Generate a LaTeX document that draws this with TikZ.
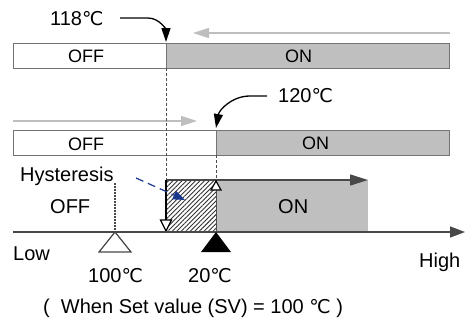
\documentclass[tikz,border=0pt]{standalone}
\usepackage{fontspec}
\setmainfont{Liberation Sans}
\newfontfamily\symfont{DejaVu Sans}
\usetikzlibrary{arrows.meta,patterns.meta}
\newcommand{\degC}{{\symfont\fontsize{19}{19}\selectfont ℃}}
\definecolor{bargray}{RGB}{191,191,191}
\definecolor{bordergray}{RGB}{115,115,115}
\definecolor{lightarr}{RGB}{190,190,190}
\definecolor{darkarr}{RGB}{72,72,72}
\definecolor{hystblue}{RGB}{25,55,140}
\begin{document}
\begin{tikzpicture}[x=1pt,y=-1pt,
  lbl/.style={font=\fontsize{20}{24}\selectfont, inner sep=0pt, anchor=base west},
  barlbl/.style={font=\fontsize{18}{22}\selectfont, inner sep=0pt, anchor=base west},
  offbar/.style={draw=bordergray, line width=1pt, fill=white},
  onbar/.style={draw=bordergray, line width=1pt, fill=bargray},
  lightarrow/.style={draw=lightarr, line width=1.5pt, -{Triangle[length=16pt,width=10pt]}},
  callout/.style={draw=black, line width=1.3pt, -{Triangle[length=14pt,width=9pt]}},
  guide/.style={draw=black!70, line width=0.8pt, dash pattern=on 3pt off 2pt},
  axisline/.style={draw=darkarr, line width=1.5pt, -{Triangle[length=15pt,width=11pt]}},
  marker/.style={draw=darkarr, line width=1.2pt, fill=white},
  bluearrow/.style={draw=hystblue, line width=1.2pt, dash pattern=on 8pt off 5pt, -{Triangle[length=12pt,width=9pt]}}
]
\useasboundingbox (0,0) rectangle (465,322);

% ---- top bar (decreasing) ----
\coordinate (la1s) at (450,33);
\coordinate (la1e) at (193,33);
\draw[lightarrow] (la1s) -- (la1e);
\draw[offbar] (13,43) rectangle (166,68);
\draw[onbar] (166,43) rectangle (449,68);
\node[barlbl] (off1) at (68,62) {OFF};
\node[barlbl] (on1) at (285,62) {ON};
\node[lbl] (t118) at (50,25) {118\degC};
\coordinate (c118s) at (120,18);
\coordinate (c118m) at (148,18);
\coordinate (c118e) at (166,42);
\draw[callout] (c118s) -- (c118m) to[out=0,in=90] (c118e);

% ---- second bar (increasing) ----
\coordinate (la2s) at (13,121);
\coordinate (la2e) at (197,121);
\draw[lightarrow] (la2s) -- (la2e);
\draw[offbar] (13,130) rectangle (216,155);
\draw[onbar] (216,130) rectangle (449,155);
\node[barlbl] (off2) at (68,150) {OFF};
\node[barlbl] (on2) at (302,149) {ON};
\node[lbl] (t120) at (278,102) {120\degC};
\coordinate (c120s) at (267,96);
\coordinate (c120m) at (250,96);
\coordinate (c120e) at (216,128);
\draw[callout] (c120s) -- (c120m) to[out=180,in=80] (c120e);

% ---- guide lines ----
\coordinate (g1t) at (166,68);
\coordinate (g1b) at (166,180);
\draw[guide] (g1t) -- (g1b);
\coordinate (g2t) at (216,155);
\coordinate (g2b) at (216,182);
\draw[guide] (g2t) -- (g2b);

% ---- hysteresis region ----
\fill[pattern={Lines[angle=45,distance=3.2pt,line width=0.9pt]}, pattern color=black!80] (166,180) rectangle (216,232);
\fill[bargray] (216,180) rectangle (368,232);
\draw[black!70, line width=0.8pt] (216,190) -- (216,232);
\coordinate (onas) at (166,180);
\coordinate (onae) at (368,180);
\draw[draw=darkarr, line width=1.5pt, -{Triangle[length=18pt,width=11pt]}] (onas) -- (onae);
% left solid edge with open down triangle
\draw[black, line width=1.2pt] (166,180) -- (166,220);
\draw[marker, draw=black] (160.5,220) -- (171.5,220) -- (166,231) -- cycle;
% open up triangle at 120
\draw[marker, draw=black] (211,190) -- (221,190) -- (216,181) -- cycle;

% ---- axis ----
\coordinate (axs) at (13,232);
\coordinate (axe) at (465,232);
\draw[axisline] (axs) -- (axe);
% SV dotted line and marker
\coordinate (svt) at (115,183);
\coordinate (svb) at (115,232);
\draw[darkarr, line width=1.2pt, dash pattern=on 1.5pt off 1.5pt] (svt) -- (svb);
\draw[marker] (115,232) -- (131,252) -- (99,252) -- cycle;
% black marker
\fill[black] (216,232) -- (231,252) -- (201,252) -- cycle;

% ---- labels ----
\node[lbl] (hyst) at (20,181) {Hysteresis};
\node[lbl] (off3) at (50,213) {OFF};
\node[lbl] (on3) at (278,213) {ON};
\node[lbl] (low) at (13,260) {Low};
\node[lbl] (high) at (419,267) {High};
\node[lbl] (t100) at (88,282) {100\degC};
\node[lbl] (t20) at (188,282) {20\degC};
\node[lbl] (note) at (43,313) {(\ \ When Set value (SV) = 100 \degC\ )};

% ---- blue hysteresis arrow ----
\coordinate (bas) at (136,178);
\coordinate (bae) at (185,200);
\draw[bluearrow] (bas) -- (bae);
\end{tikzpicture}
\end{document}
